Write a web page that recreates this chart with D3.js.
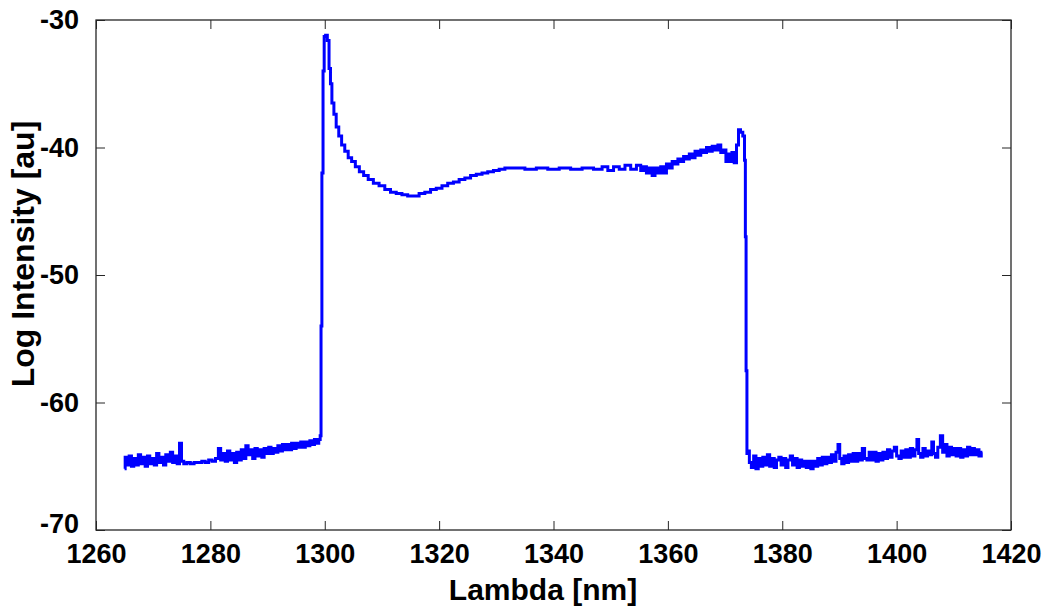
<!DOCTYPE html>
<html lang="en">
<head>
    <meta charset="UTF-8">
    <title>Log Intensity vs Lambda</title>
    <script src="https://d3js.org/d3.v7.min.js"></script>
    <style>
        body{
            margin: 0;
            background: white;
        }
        svg{
            display: block;
            font-family: "Liberation Sans", Arial, sans-serif;
            font-weight: bold;
        }
    </style>
</head>
<body>
<svg></svg>
<script>
    /* axis ticks */
    const xTicks = [1260, 1280, 1300, 1320, 1340, 1360, 1380, 1400, 1420];
    const yTicks = [-70, -60, -50, -40, -30];

    /* spectrum, [lambda nm, log intensity] */
    const leftFloor = [
        [1265.0,-65.2],[1265.2,-64.3],[1265.6,-64.9],[1266.0,-64.2],[1266.4,-65.0],[1266.8,-64.4],
        [1267.2,-64.9],[1267.6,-64.1],[1268.0,-64.8],[1268.4,-64.3],[1268.8,-65.0],[1269.2,-64.2],
        [1269.6,-64.8],[1270.0,-64.4],[1270.4,-64.9],[1270.8,-64.0],[1271.2,-64.7],[1271.6,-64.3],
        [1272.0,-64.9],[1272.4,-64.1],[1272.8,-64.6],[1273.2,-63.9],[1273.6,-64.7],[1274.0,-64.2],
        [1274.4,-64.8],[1274.8,-63.2],[1275.1,-64.6],[1275.6,-64.8],[1276.2,-64.7],[1276.8,-64.8],
        [1277.5,-64.7],[1278.2,-64.7],[1278.8,-64.6],[1279.4,-64.7],[1280.0,-64.5],[1280.6,-64.6],
        [1281.2,-64.4],[1281.6,-63.6],[1282.0,-64.5],[1282.4,-64.0],[1282.8,-64.6],[1283.2,-63.8],
        [1283.6,-64.5],[1284.0,-64.0],[1284.4,-64.7],[1284.8,-63.9],[1285.2,-64.5],[1285.6,-63.7],
        [1286.0,-64.4],[1286.4,-63.4],[1286.8,-64.1],[1287.2,-63.7],[1287.6,-64.4],[1288.0,-63.6],
        [1288.4,-64.2],[1288.8,-63.7],[1289.2,-64.3],[1289.6,-63.6],[1290.0,-64.0],[1290.4,-63.5],
        [1290.8,-64.0],[1291.2,-63.6],[1291.6,-63.9],[1292.0,-63.4],[1292.4,-63.8],[1292.8,-63.3],
        [1293.2,-63.7],[1293.6,-63.3],[1294.0,-63.7],[1294.4,-63.2],[1294.8,-63.6],[1295.2,-63.2],
        [1295.6,-63.5],[1296.0,-63.1],[1296.4,-63.5],[1296.8,-63.1],[1297.2,-63.4],[1297.6,-63.0],
        [1298.0,-63.3],[1298.4,-62.9],[1298.8,-63.2],[1299.1,-62.9],[1299.3,-62.6]
    ];
    const peak = [
        [1299.4,-54.0],[1299.6,-42.0],[1299.8,-34.0],[1300.0,-31.3],[1300.3,-31.2],[1300.6,-31.6],
        [1300.9,-33.8],[1301.1,-35.0],[1301.4,-36.5],[1301.8,-37.4],[1302.2,-38.4],[1302.7,-39.1],
        [1303.2,-39.8],[1303.8,-40.3],[1304.4,-40.8],[1305.0,-41.1],[1305.7,-41.5],[1306.4,-41.9],
        [1307.2,-42.2],[1308.0,-42.5],[1309.0,-42.8],[1310.0,-43.0],[1311.0,-43.3],[1312.0,-43.5],
        [1313.0,-43.6],[1314.0,-43.7],[1315.0,-43.8],[1316.0,-43.8],[1317.0,-43.6],[1318.0,-43.5],
        [1319.0,-43.3],[1320.0,-43.2],[1321.0,-43.0],[1322.0,-42.8],[1323.0,-42.7],[1324.0,-42.5],
        [1325.0,-42.4],[1326.0,-42.2],[1327.0,-42.1],[1328.0,-42.0],[1329.0,-41.9],[1330.0,-41.8],
        [1331.0,-41.7],[1332.0,-41.6]
    ];
    const plateau = [
        [1334.0,-41.6],[1336.0,-41.7],[1338.0,-41.6],[1340.0,-41.7],[1342.0,-41.6],[1344.0,-41.7],
        [1346.0,-41.6],[1348.0,-41.7],[1349.0,-41.5],[1350.0,-41.8],[1351.0,-41.5],[1352.0,-41.7],
        [1353.0,-41.4],[1354.0,-41.7],[1355.0,-41.4],[1355.5,-41.8],[1356.0,-41.5],[1356.5,-42.0],
        [1357.0,-41.6],[1357.5,-42.2],[1358.0,-41.6],[1358.5,-42.0],[1359.0,-41.5],[1359.5,-42.0],
        [1360.0,-41.3],[1360.5,-41.6],[1361.0,-41.1],[1361.5,-41.3],[1362.0,-40.9],[1362.5,-41.1],
        [1363.0,-40.7],[1363.5,-40.9],[1364.0,-40.5],[1364.5,-40.8],[1365.0,-40.3],[1365.5,-40.6],
        [1366.0,-40.2],[1366.5,-40.4],[1367.0,-40.0],[1367.5,-40.3],[1368.0,-39.9],[1368.5,-40.2],
        [1369.0,-39.8],[1369.5,-40.4],[1370.0,-40.2],[1370.3,-41.1],[1370.7,-40.5],[1371.0,-41.1],
        [1371.4,-40.4],[1371.8,-41.2],[1372.2,-39.8],[1372.5,-38.6],[1372.9,-38.8],[1373.3,-39.1]
    ];
    const fallEdge = [
        [1373.5,-41.0],[1373.6,-47.0],[1373.75,-57.5],[1373.9,-64.0],[1374.1,-63.8]
    ];
    const rightFloor = [
        [1374.4,-64.7],[1374.8,-65.1],[1375.2,-64.2],[1375.6,-65.2],[1376.0,-64.4],[1376.4,-65.0],
        [1376.8,-64.3],[1377.2,-64.9],[1377.6,-64.1],[1378.0,-65.0],[1378.4,-64.4],[1378.8,-65.1],
        [1379.2,-64.5],[1379.6,-64.3],[1380.0,-64.9],[1380.4,-64.4],[1380.8,-65.1],[1381.2,-64.5],
        [1381.6,-64.2],[1382.0,-64.9],[1382.4,-64.4],[1382.8,-65.1],[1383.2,-64.5],[1383.6,-65.0],
        [1384.0,-64.6],[1384.4,-65.1],[1384.8,-64.6],[1385.2,-65.2],[1385.6,-64.6],[1386.0,-65.0],
        [1386.4,-64.4],[1386.8,-64.9],[1387.2,-64.3],[1387.6,-64.8],[1388.0,-64.3],[1388.4,-64.7],
        [1388.8,-64.1],[1389.2,-64.6],[1389.6,-63.9],[1389.9,-63.3],[1390.2,-64.4],[1390.6,-64.8],
        [1391.0,-64.2],[1391.4,-64.7],[1391.8,-64.1],[1392.2,-64.6],[1392.6,-64.0],[1393.0,-64.6],
        [1393.4,-64.0],[1393.8,-64.5],[1394.2,-63.6],[1394.6,-64.4],[1395.0,-64.5],[1395.4,-63.9],
        [1395.8,-64.5],[1396.2,-63.9],[1396.6,-64.6],[1397.0,-64.0],[1397.4,-64.5],[1397.8,-63.9],
        [1398.2,-64.4],[1398.6,-63.7],[1399.0,-64.3],[1399.4,-63.8],[1399.8,-63.5],[1400.2,-64.2],
        [1400.6,-64.4],[1401.0,-63.8],[1401.4,-64.3],[1401.8,-63.7],[1402.2,-64.3],[1402.6,-63.6],
        [1403.0,-64.2],[1403.4,-63.7],[1403.7,-62.9],[1404.0,-64.0],[1404.4,-64.3],[1404.8,-63.6],
        [1405.2,-64.2],[1405.6,-63.8],[1406.0,-64.1],[1406.3,-63.1],[1406.6,-64.0],[1407.0,-64.3],
        [1407.4,-63.5],[1407.9,-62.6],[1408.2,-63.9],[1408.6,-63.3],[1409.0,-64.2],[1409.4,-63.5],
        [1409.8,-64.1],[1410.2,-63.6],[1410.6,-64.2],[1411.0,-63.6],[1411.4,-64.3],[1411.8,-63.7],
        [1412.2,-64.2],[1412.6,-63.5],[1413.0,-64.1],[1413.4,-63.6],[1413.8,-64.1],[1414.2,-63.7],
        [1414.6,-64.2],[1415.0,-63.9]
    ];
    const spectrum = leftFloor.concat(peak, plateau, fallEdge, rightFloor);

    const width = 1050;
    const height = 611;
    const margin = {top: 20, right: 39, bottom: 81, left: 96};
    const innerW = width - margin.left - margin.right;
    const innerH = height - margin.top - margin.bottom;

    const svg = d3.select('svg')
        .attr('width', width)
        .attr('height', height);

    const x = d3.scaleLinear().domain([1260, 1420]).range([0, innerW]);
    const y = d3.scaleLinear().domain([-70, -30]).range([innerH, 0]);

    const g = svg.append('g')
        .attr('transform', `translate(${margin.left},${margin.top})`);

    /* the curve, stepped like the dense matlab trace */
    const line = d3.line()
        .curve(d3.curveStep)
        .x(d => x(d[0]))
        .y(d => y(d[1]));

    g.append('path')
        .datum(spectrum)
        .attr('fill', 'none')
        .attr('stroke', '#0000ff')
        .attr('stroke-width', 3)
        .attr('stroke-linejoin', 'miter')
        .attr('d', line);

    /* axes, ticks pointing inward like matlab */
    const tickLen = 9;
    const plainNum = d => String(d);   // keep hyphen minus
    const styleAxis = sel => {
        sel.select('.domain').remove();
        sel.selectAll('line').attr('stroke', '#262626').attr('stroke-width', 1);
        sel.selectAll('text')
            .attr('fill', '#000')
            .style('font-size', '27px')
            .style('font-weight', 'bold');
    };

    g.append('g')
        .attr('transform', `translate(0,${innerH})`)
        .call(d3.axisBottom(x).tickValues(xTicks).tickFormat(plainNum)
            .tickSizeInner(-tickLen).tickSizeOuter(0).tickPadding(14))
        .call(styleAxis);

    g.append('g')
        .call(d3.axisTop(x).tickValues(xTicks).tickFormat('')
            .tickSizeInner(-tickLen).tickSizeOuter(0))
        .call(styleAxis);

    const yAxis = g.append('g')
        .call(d3.axisLeft(y).tickValues(yTicks).tickFormat(plainNum)
            .tickSizeInner(-tickLen).tickSizeOuter(0).tickPadding(17))
        .call(styleAxis);
    /* bottom label sits a little high so it clears 1260 */
    yAxis.selectAll('.tick text')
        .filter(d => d === -70)
        .attr('y', -6);

    g.append('g')
        .attr('transform', `translate(${innerW},0)`)
        .call(d3.axisRight(y).tickValues(yTicks).tickFormat('')
            .tickSizeInner(-tickLen).tickSizeOuter(0))
        .call(styleAxis);

    /* box */
    g.append('rect')
        .attr('width', innerW)
        .attr('height', innerH)
        .attr('fill', 'none')
        .attr('stroke', '#262626')
        .attr('stroke-width', 1.3);

    /* axis titles */
    svg.append('text')
        .attr('x', 543)
        .attr('y', 600)
        .attr('text-anchor', 'middle')
        .style('font-size', '30px')
        .text('Lambda [nm]');

    svg.append('text')
        .attr('transform', 'translate(34,254) rotate(-90)')
        .attr('text-anchor', 'middle')
        .style('font-size', '32px')
        .text('Log Intensity [au]');
</script>
</body>
</html>
